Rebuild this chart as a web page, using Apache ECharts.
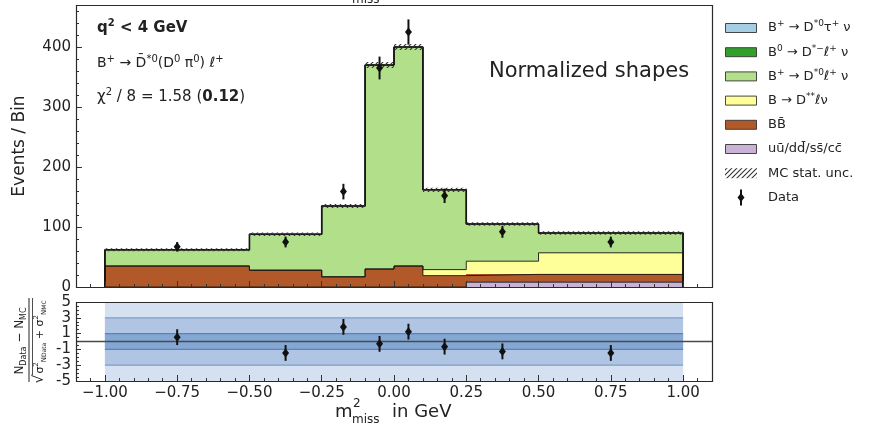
<!DOCTYPE html>
<html><head><meta charset="utf-8">
<script src="https://cdn.jsdelivr.net/npm/echarts@6/dist/echarts.min.js"></script>
<style>html,body{margin:0;padding:0;background:#fff}#c{width:872px;height:429px}</style>
</head><body><div id="c"></div>
<script>
// ---------------- data ----------------
const binEdges   = [-1.0, -0.5, -0.25, -0.1, 0.0, 0.1, 0.25, 0.5, 1.0];
const tauNu      = [0, 0, 0, 0, 0, 0, 0, 0];          // B+ -> D*0 tau+ nu
const dStarMinus = [0, 0, 0, 0, 0, 0, 0, 0];          // B0 -> D*- l+ nu
const dStar0     = [27, 60, 118, 340, 365, 133, 62, 33]; // B+ -> D*0 l+ nu
const dStarStar  = [0, 0, 0, 0, 0, 10, 22, 36];       // B -> D** l nu
const bbbar      = [35, 28, 17, 30, 35, 19, 13, 13];  // BBbar
const continuum  = [0, 0, 0, 0, 0, 0, 8, 8];          // uu/dd/ss/cc
const mcUnc      = [2.5, 3, 3.5, 5, 5, 3.5, 3, 3];
const dataCounts = [67, 75, 159, 365, 425, 152, 92, 75];
const dataErr    = [8, 9, 13, 19, 21, 12, 10, 9];
const pulls      = [0.55, -1.45, 1.85, -0.3, 1.25, -0.65, -1.25, -1.45];
const pullErr    = [1, 1, 1, 1, 1, 1, 1, 1];
const sigmaBands = [5, 3, 1];
const xTicks     = [-1, -0.75, -0.5, -0.25, 0, 0.25, 0.5, 0.75, 1];
const yTicksMain = [0, 100, 200, 300, 400];
const yTicksPull = [-5, -3, -1, 1, 3, 5];
const xRange     = [-1.1, 1.1];
const yRangeMain = [0, 470];
const yRangePull = [-5, 5];

// legend labels (rich text), in legend order
const legendLabels = [
  'B{p|+} → D{p|*0}τ{p|+} ν',
  'B{p|0} → D{p|*−}ℓ{p|+} ν',
  'B{p|+} → D{p|*0}ℓ{p|+} ν',
  'B → D{p|**}ℓν',
  'BB\u0304',
  'uu\u0304/dd\u0304/ss\u0304/cc\u0304',
  'MC stat. unc.',
  'Data'
];

// ---------------- helpers ----------------
const FONT = 'DejaVu Sans';
const TXT = '#222';
function rich(size, weight) {
  weight = weight || 'normal';
  return {
    p:  {fontSize: Math.round(size*0.68), lineHeight: Math.round(size*0.6), verticalAlign: 'top', fontFamily: FONT, fontWeight: weight, fill: TXT},
    s:  {fontSize: Math.round(size*0.68), lineHeight: Math.round(size*0.6), verticalAlign: 'bottom', fontFamily: FONT, fontWeight: weight, fill: TXT},
    ss: {fontSize: Math.round(size*0.55), lineHeight: Math.round(size*0.35), verticalAlign: 'bottom', fontFamily: FONT, fontWeight: weight, fill: TXT},
    b:  {fontSize: size, lineHeight: Math.round(size*1.3), fontFamily: FONT, fontWeight: 'bold', fill: TXT}
  };
}
function txt(text, x, y, size, opts) {
  opts = opts || {};
  return {
    type: 'text', x: x, y: y, z: 100, rotation: opts.rotation || 0, silent: true,
    style: {
      text: text, fill: TXT, fontSize: size, fontFamily: FONT, fontWeight: opts.weight || 'normal',
      lineHeight: Math.round(size*1.3), align: opts.align || 'left', verticalAlign: opts.va || 'middle',
      rich: rich(size, opts.weight)
    }
  };
}
function makeHatch() {
  const c = document.createElement('canvas');
  c.width = 5; c.height = 5;
  const g = c.getContext('2d');
  g.strokeStyle = '#333'; g.lineWidth = 1.1;
  g.beginPath();
  g.moveTo(0, 5); g.lineTo(5, 0);
  g.moveTo(-1, 1); g.lineTo(1, -1);
  g.moveTo(4, 6); g.lineTo(6, 4);
  g.stroke();
  return {image: c, repeat: 'repeat'};
}
const hatch = makeHatch();

const nBins = binEdges.length - 1;
const centers = [];
for (let i = 0; i < nBins; i++) centers.push((binEdges[i] + binEdges[i+1]) / 2);

const stackOrder = [
  {name: 'uū/dd̄/ss̄/cc̄', vals: continuum,  color: '#cab2d6'},
  {name: 'BB̄',            vals: bbbar,      color: '#b15928'},
  {name: 'B → D** ℓ ν',   vals: dStarStar,  color: '#ffff99'},
  {name: 'B+ → D*0 ℓ+ ν', vals: dStar0,     color: '#b2df8a'},
  {name: 'B0 → D*- ℓ+ ν', vals: dStarMinus, color: '#33a02c'},
  {name: 'B+ → D*0 τ+ ν', vals: tauNu,      color: '#a6cee3'}
];

function snapRect(p0, p1) {
  const x0 = Math.round(p0[0]), x1 = Math.round(p1[0]);
  const y0 = Math.round(p0[1]), y1 = Math.round(p1[1]);
  return {x: x0, y: y0, width: x1 - x0, height: y1 - y0};
}
function rectItem(params, api) {
  const lo = api.value(0), hi = api.value(1), b = api.value(2), t = api.value(3);
  if (!(t > b)) return;
  const p0 = api.coord([lo, t]), p1 = api.coord([hi, b]);
  return {type: 'rect', shape: snapRect(p0, p1), style: {fill: api.visual('color')}};
}

const series = [];
let cum = new Array(nBins).fill(0);
const boundaries = [];
stackOrder.forEach(c => {
  const data = [], top = [];
  for (let i = 0; i < nBins; i++) {
    data.push([binEdges[i], binEdges[i+1], cum[i], cum[i] + c.vals[i]]);
    top.push(cum[i] + c.vals[i]);
  }
  cum = top;
  boundaries.push(top.slice());
  series.push({type: 'custom', name: c.name, xAxisIndex: 0, yAxisIndex: 0, renderItem: rectItem,
    itemStyle: {color: c.color}, data: data, encode: {x: [0, 1], y: [2, 3]}, z: 2, silent: true});
});
const totals = cum;

boundaries.forEach((top, k) => {
  const pts = [[binEdges[0], 0]];
  for (let i = 0; i < nBins; i++) pts.push([binEdges[i], top[i]]);
  pts.push([binEdges[nBins], top[nBins-1]]);
  pts.push([binEdges[nBins], 0]);
  const isTop = k === boundaries.length - 1;
  series.push({type: 'line', step: 'end', data: pts, symbol: 'none', xAxisIndex: 0, yAxisIndex: 0,
    lineStyle: {color: '#151515', width: isTop ? 1.6 : 0.9}, z: 3, silent: true});
});

// MC stat uncertainty (hatched)
series.push({type: 'custom', name: 'MC stat. unc.', xAxisIndex: 0, yAxisIndex: 0, z: 4, silent: true,
  data: totals.map((t, i) => [binEdges[i], binEdges[i+1], t - mcUnc[i], t + mcUnc[i]]),
  encode: {x: [0, 1], y: [2, 3]},
  renderItem: (p, api) => {
    const p0 = api.coord([api.value(0), api.value(3)]), p1 = api.coord([api.value(1), api.value(2)]);
    return {type: 'rect', shape: {x: p0[0], y: p0[1], width: p1[0]-p0[0], height: p1[1]-p0[1]}, style: {fill: hatch}};
  }});

function errItem(p, api) {
  const x = api.value(0), v = api.value(1), e = api.value(2);
  const c = api.coord([x, v]), lo = api.coord([x, v - e]), hi = api.coord([x, v + e]);
  return {type: 'group', children: [
    {type: 'line', shape: {x1: c[0], y1: lo[1], x2: c[0], y2: hi[1]}, style: {stroke: '#111', lineWidth: 2}},
    {type: 'polygon', shape: {points: [[c[0], c[1]-4.5], [c[0]+3.5, c[1]], [c[0], c[1]+4.5], [c[0]-3.5, c[1]]]}, style: {fill: '#111'}}
  ]};
}
series.push({type: 'custom', name: 'Data', xAxisIndex: 0, yAxisIndex: 0, z: 6, silent: true,
  data: centers.map((x, i) => [x, dataCounts[i], dataErr[i]]), encode: {x: 0, y: 1}, renderItem: errItem});

// pull panel bands
const bandFills = ['#d5e1f1', '#afc5e3', '#84a7d4'];
const bandLines = [null, '#7f9dc8', '#5a83bd'];
series.push({type: 'custom', name: 'bands', xAxisIndex: 2, yAxisIndex: 2, z: 1, silent: true,
  data: sigmaBands.map((s, k) => [binEdges[0], binEdges[nBins], -s, s, k]),
  encode: {x: [0, 1], y: [2, 3]},
  renderItem: (p, api) => {
    const k = api.value(4);
    const p0 = api.coord([api.value(0), api.value(3)]), p1 = api.coord([api.value(1), api.value(2)]);
    const ch = [{type: 'rect', shape: {x: p0[0], y: p0[1], width: p1[0]-p0[0], height: p1[1]-p0[1]}, style: {fill: bandFills[k]}}];
    if (bandLines[k]) {
      ch.push({type: 'line', shape: {x1: p0[0], y1: p0[1], x2: p1[0], y2: p0[1]}, style: {stroke: bandLines[k], lineWidth: 1.2}});
      ch.push({type: 'line', shape: {x1: p0[0], y1: p1[1], x2: p1[0], y2: p1[1]}, style: {stroke: bandLines[k], lineWidth: 1.2}});
    }
    return {type: 'group', children: ch};
  }});
series.push({type: 'line', data: [[xRange[0], 0], [xRange[1], 0]], xAxisIndex: 2, yAxisIndex: 2, symbol: 'none',
  lineStyle: {color: '#4a4a4a', width: 1.3}, z: 3, silent: true});
series.push({type: 'custom', name: 'Pulls', xAxisIndex: 2, yAxisIndex: 2, z: 6, silent: true,
  data: centers.map((x, i) => [x, pulls[i], pullErr[i]]), encode: {x: 0, y: 1}, renderItem: errItem});

// ---------------- axes ----------------
const minorX = [];
for (let k = -22; k <= 22; k++) minorX.push(k * 0.05);
const minorYMain = [];
for (let v = 0; v <= 460; v += 20) minorYMain.push(v);
const minorYPull = [];
for (let k = -10; k <= 10; k++) minorYPull.push(k * 0.5);

const tickStyle = {lineStyle: {color: '#333', width: 1}};
const labelStyle = {color: TXT, fontFamily: FONT, fontSize: 15};
function xAx(grid, values, len, labels) {
  return {type: 'value', gridIndex: grid, min: xRange[0], max: xRange[1], position: 'bottom', offset: 0, z: 10,
    axisLine: {show: false, onZero: false}, splitLine: {show: false},
    axisTick: Object.assign({show: true, inside: true, length: len, customValues: values}, tickStyle),
    axisLabel: labels ? Object.assign({show: true, margin: 5, customValues: values,
      formatter: v => (v < 0 ? '\u2212' : '') + Math.abs(v).toFixed(2)}, labelStyle) : {show: false}};
}
function yAx(grid, range, values, len, labels) {
  return {type: 'value', gridIndex: grid, min: range[0], max: range[1], position: 'left', offset: 0, z: 10,
    axisLine: {show: false, onZero: false}, splitLine: {show: false},
    axisTick: Object.assign({show: true, inside: true, length: len, customValues: values}, tickStyle),
    axisLabel: labels ? Object.assign({show: true, margin: 5, customValues: values, formatter: v => String(v)}, labelStyle) : {show: false}};
}

// ---------------- graphic (frames, texts, legend) ----------------
const G0 = {left: 76, top: 5, width: 636, height: 282};
const G1 = {left: 76, top: 302, width: 636, height: 79};
const graphics = [];
[G0, G1].forEach(g => graphics.push({type: 'rect', z: 100, silent: true,
  shape: {x: g.left + 0.5, y: g.top + 0.5, width: g.width, height: g.height},
  style: {fill: 'none', stroke: '#2a2a2a', lineWidth: 1.2}}));

// annotations
graphics.push(txt('q{p|2} < 4 GeV', 97, 28, 15, {weight: 'bold'}));
graphics.push(txt('B{p|+} → D\u0304{p|*0}(D{p|0} π{p|0}) ℓ{p|+}', 97, 63, 14));
graphics.push(txt('χ{p|2} / 8 = 1.58 ({b|0.12})', 97, 97, 15));
graphics.push(txt('Normalized shapes', 489, 72, 21));

// y axis titles
graphics.push(txt('Events / Bin', 20, 146, 17, {rotation: Math.PI/2, align: 'center'}));
graphics.push({type: 'group', x: 29, y: 341, rotation: Math.PI/2, z: 100, silent: true, children: [
  {type: 'text', x: 0, y: -9, style: {text: 'N{s|Data} − N{s|MC}', fill: TXT, fontSize: 12, fontFamily: FONT, lineHeight: 15,
    align: 'center', verticalAlign: 'middle', rich: rich(12)}},
  {type: 'line', shape: {x1: -41, y1: 0, x2: 43, y2: 0}, style: {stroke: TXT, lineWidth: 1}},
  {type: 'text', x: -38, y: 10, style: {text: '√', fill: TXT, fontSize: 14, fontFamily: FONT, align: 'center', verticalAlign: 'middle'}},
  {type: 'line', shape: {x1: -34, y1: 3.5, x2: 43, y2: 3.5}, style: {stroke: TXT, lineWidth: 0.8}},
  {type: 'text', x: 4, y: 11, style: {text: 'σ{p|2}{s|N}{ss|Data} + σ{p|2}{s|N}{ss|MC}', fill: TXT, fontSize: 11, fontFamily: FONT,
    lineHeight: 15, align: 'center', verticalAlign: 'middle', rich: rich(11)}}
]});

// x axis titles (bottom, and the clipped one at top)
function xTitle(yc) {
  return {type: 'group', x: 0, y: yc, z: 100, silent: true, children: [
    {type: 'text', x: 335, y: 0, style: {text: 'm', fill: TXT, fontSize: 18, fontFamily: FONT, verticalAlign: 'middle'}},
    {type: 'text', x: 353, y: -8, style: {text: '2', fill: TXT, fontSize: 12, fontFamily: FONT, verticalAlign: 'middle'}},
    {type: 'text', x: 352, y: 8, style: {text: 'miss', fill: TXT, fontSize: 12, fontFamily: FONT, verticalAlign: 'middle'}},
    {type: 'text', x: 392, y: 0, style: {text: 'in GeV', fill: TXT, fontSize: 18, fontFamily: FONT, verticalAlign: 'middle'}}
  ]};
}
graphics.push(xTitle(412));
graphics.push(xTitle(-8));

// legend
const legendFills = ['#a6cee3', '#33a02c', '#b2df8a', '#ffff99', '#b15928', '#cab2d6'];
legendLabels.forEach((lab, i) => {
  const yc = 28 + i * 24.2;
  if (i < legendFills.length) {
    graphics.push({type: 'rect', z: 100, silent: true, shape: {x: 725.5, y: yc - 4.5, width: 31, height: 9},
      style: {fill: legendFills[i], stroke: '#333', lineWidth: 0.9}});
  } else if (i === legendFills.length) {
    graphics.push({type: 'rect', z: 100, silent: true, shape: {x: 725, y: yc - 5, width: 32, height: 10},
      style: {fill: hatch}});
  } else {
    graphics.push({type: 'line', z: 100, silent: true, shape: {x1: 741, y1: yc - 8, x2: 741, y2: yc + 8}, style: {stroke: '#111', lineWidth: 2}});
    graphics.push({type: 'polygon', z: 100, silent: true, shape: {points: [[741, yc-4.5], [744.5, yc], [741, yc+4.5], [737.5, yc]]}, style: {fill: '#111'}});
  }
  graphics.push(txt(lab, 768, yc, 13));
});

const option = {
  animation: false,
  backgroundColor: '#fff',
  grid: [
    Object.assign({containLabel: false}, G0),
    Object.assign({containLabel: false}, G1)
  ],
  xAxis: [
    xAx(0, xTicks, 6, false), xAx(0, minorX, 3, false),
    xAx(1, xTicks, 6, true),  xAx(1, minorX, 3, false)
  ],
  yAxis: [
    yAx(0, yRangeMain, yTicksMain, 6, true), yAx(0, yRangeMain, minorYMain, 3, false),
    yAx(1, yRangePull, yTicksPull, 5, true), yAx(1, yRangePull, minorYPull, 3, false)
  ],
  series: series,
  graphic: {elements: graphics}
};
const chart = echarts.init(document.getElementById('c'));
chart.setOption(option);
</script>
</body></html>
